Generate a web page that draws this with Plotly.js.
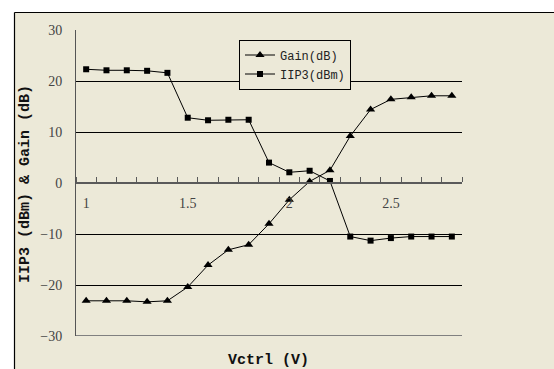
<!DOCTYPE html>
<html>
<head>
<meta charset="utf-8">
<script src="https://cdn.plot.ly/plotly-3.0.1.min.js"></script>
<style>html,body{margin:0;padding:0;background:#fff;}#chart{width:554px;height:369px;}</style>
</head>
<body>
<div id="chart"></div>
<script>
var vctrl = [1.0, 1.1, 1.2, 1.3, 1.4, 1.5, 1.6, 1.7, 1.8, 1.9, 2.0, 2.1, 2.2, 2.3, 2.4, 2.5, 2.6, 2.7, 2.8];
var gain = [-23.1, -23.1, -23.1, -23.3, -23.1, -20.4, -16.1, -13.1, -12.1, -8.0, -3.3, 0.3, 2.5, 9.2, 14.4, 16.4, 16.8, 17.1, 17.1];
var iip3 = [22.3, 22.1, 22.1, 22.0, 21.6, 12.8, 12.3, 12.4, 12.4, 4.0, 2.1, 2.4, 0.4, -10.5, -11.3, -10.8, -10.5, -10.5, -10.5];
var xTickVals = [1, 1.5, 2, 2.5];
var xTickText = ['1', '1.5', '2', '2.5'];
var yTickVals = [-30, -20, -10, 0, 10, 20, 30];
var gainName = 'Gain(dB)';
var iip3Name = 'IIP3(dBm)';
var xTitle = 'Vctrl (V)';
var yTitle = 'IIP3 (dBm) & Gain (dB)';

var beige = 'rgb(236,233,216)';
var W = 554, H = 369, L = 76, R = 92, T = 30, B = 33;
var pw = W - L - R, ph = H - T - B;
function px(x) { return (x - L) / pw; }
function py(y) { return 1 - (y - T) / ph; }

var traces = [
  {x: vctrl, y: gain, name: gainName, type: 'scatter', mode: 'lines+markers',
   line: {color: '#000', width: 1}, marker: {symbol: 'triangle-up', size: 8, color: '#000'}},
  {x: vctrl, y: iip3, name: iip3Name, type: 'scatter', mode: 'lines+markers',
   line: {color: '#000', width: 1}, marker: {symbol: 'square', size: 6, color: '#000'}}
];

var tickFont = {family: 'Liberation Serif', size: 14, color: '#444'};
var titleFont = {family: 'Liberation Mono', size: 15, color: '#111', weight: 'bold'};

var layout = {
  width: W, height: H,
  margin: {l: L, r: R, t: T, b: B},
  paper_bgcolor: beige,
  plot_bgcolor: beige,
  showlegend: true,
  legend: {x: px(239), y: py(39.5), xanchor: 'left', yanchor: 'top',
    bgcolor: beige, bordercolor: '#000', borderwidth: 1,
    font: {family: 'Liberation Mono', size: 12, color: '#222'},
    tracegroupgap: 0},
  xaxis: {
    type: 'linear', range: [0.95, 2.85], anchor: 'free', position: 0.5,
    tickmode: 'array', tickvals: xTickVals, ticktext: xTickText,
    ticks: '', showgrid: false, zeroline: false,
    showline: true, linecolor: '#5a5a5a', linewidth: 2,
    ticklabelstandoff: 7,
    tickfont: tickFont,
    minor: {tickmode: 'linear', tick0: 0.95, dtick: 0.1, ticks: 'inside', ticklen: 5, tickwidth: 1, tickcolor: '#5a5a5a', showgrid: false}
  },
  yaxis: {
    range: [-30, 30], tickmode: 'array', tickvals: yTickVals,
    ticks: '', showgrid: true, gridcolor: '#000', gridwidth: 1, zeroline: false,
    showline: true, linecolor: '#555', linewidth: 1,
    ticklabelstandoff: 10,
    tickfont: tickFont
  },
  shapes: [
    {type: 'rect', xref: 'paper', yref: 'paper', x0: px(-10), x1: px(600), y0: py(12), y1: py(-10),
     fillcolor: '#ffffff', line: {width: 0}, layer: 'above'},
    {type: 'rect', xref: 'paper', yref: 'paper', x0: px(-10), x1: px(14), y0: py(400), y1: py(-10),
     fillcolor: '#ffffff', line: {width: 0}, layer: 'above'},
    {type: 'line', xref: 'paper', yref: 'paper', x0: px(14.5), x1: px(600), y0: py(12.5), y1: py(12.5),
     line: {color: '#000', width: 1.2}, layer: 'above'},
    {type: 'line', xref: 'paper', yref: 'paper', x0: px(14.5), x1: px(14.5), y0: py(12.5), y1: py(400),
     line: {color: '#000', width: 1.2}, layer: 'above'},
    {type: 'line', xref: 'paper', yref: 'y', x0: 0, x1: 1, y0: -30, y1: -30,
     line: {color: '#808080', width: 2}, layer: 'above'}
  ],
  annotations: [
    {text: yTitle, xref: 'paper', yref: 'paper', x: px(25), y: py(184), textangle: -90,
     showarrow: false, xanchor: 'center', yanchor: 'middle', font: titleFont},
    {text: xTitle, xref: 'paper', yref: 'paper', x: px(268), y: py(360),
     showarrow: false, xanchor: 'center', yanchor: 'middle', font: titleFont}
  ]
};

Plotly.newPlot('chart', traces, layout, {staticPlot: true, displayModeBar: false});
</script>
</body>
</html>
